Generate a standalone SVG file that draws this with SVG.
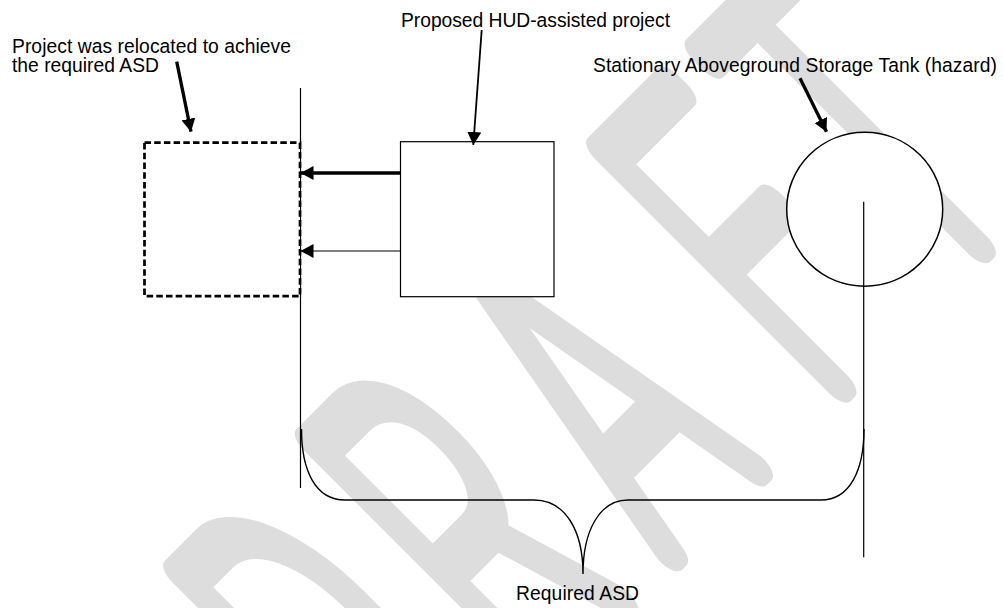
<svg xmlns="http://www.w3.org/2000/svg" width="1003" height="608" viewBox="0 0 1003 608">
  <defs>
    <style>
      .lbl { font-family: "Liberation Sans", Arial, sans-serif; font-size: 19.3px; fill: #000; }
      .ln { stroke: #000; fill: none; }
      .box { fill: #fff; stroke: #000; }
      .wm { font-family: Roboto, "Liberation Sans", sans-serif; font-weight: 100; font-size: 466px;
            fill: #dddddd; stroke: #dddddd; stroke-width: 32; stroke-linejoin: round; stroke-linecap: round;
            vector-effect: non-scaling-stroke; }
    </style>
    <marker id="arrow" viewBox="0 0 13 14" refX="13" refY="7" markerWidth="13" markerHeight="14"
            markerUnits="userSpaceOnUse" orient="auto">
      <path d="M0,0 L13,7 L0,14 Z" fill="#000"/>
    </marker>
  </defs>

  <!-- background watermark -->
  <g id="watermark" transform="translate(367.5,367.5) rotate(-45)">
    <text class="wm" transform="scale(0.48,1)" x="-629 -240 158 617 940" y="345">DRAFT</text>
  </g>

  <!-- reference line at the required separation distance -->
  <g id="asd-line">
    <line class="ln" x1="300.5" y1="88" x2="300.5" y2="488" stroke-width="1.2"/>
  </g>

  <!-- relocated project footprint -->
  <g id="relocated-project">
    <rect x="144.5" y="142.7" width="155.5" height="153.5" fill="#fff" stroke="#000" stroke-width="2.7" stroke-dasharray="6.5 3.2"/>
  </g>

  <!-- proposed project footprint -->
  <g id="proposed-project">
    <rect class="box" x="400.5" y="141.7" width="153.5" height="155" stroke-width="1.2"/>
  </g>

  <!-- storage tank -->
  <g id="tank">
    <ellipse class="box" cx="864.7" cy="209.2" rx="78" ry="77" stroke-width="1.5"/>
    <line class="ln" x1="863.7" y1="201.7" x2="863.7" y2="557.3" stroke-width="1.2"/>
  </g>

  <!-- brace spanning the required distance -->
  <g id="asd-brace">
    <path class="ln" stroke-width="1.4"
          d="M301.5,429 C301.5,470 315,500 345,500 L534,500 C565,500 583,530 583,574 C583,530 600,500 628,500 L821,500 C850,500 864,470 864,429"/>
  </g>

  <!-- labels -->
  <g id="label-relocated">
    <text class="lbl" x="12" y="52.7" textLength="279" lengthAdjust="spacing">Project was relocated to achieve</text>
    <text class="lbl" x="12" y="71.7" textLength="147" lengthAdjust="spacing">the required ASD</text>
  </g>
  <g id="label-proposed">
    <text class="lbl" x="401" y="27.3" textLength="269" lengthAdjust="spacing">Proposed HUD-assisted project</text>
  </g>
  <g id="label-tank">
    <text class="lbl" x="593" y="71.7" textLength="404" lengthAdjust="spacing">Stationary Aboveground Storage Tank (hazard)</text>
  </g>
  <g id="label-asd">
    <text class="lbl" x="516" y="600" textLength="123" lengthAdjust="spacing">Required ASD</text>
  </g>

  <!-- connectors -->
  <g id="connectors" class="ln">
    <line x1="176.7" y1="61.7" x2="191" y2="131.7" stroke-width="3.3" marker-end="url(#arrow)"/>
    <line x1="481.7" y1="30" x2="473.3" y2="145" stroke-width="1.8" marker-end="url(#arrow)"/>
    <line x1="800" y1="78.3" x2="826.5" y2="131.7" stroke-width="3.3" marker-end="url(#arrow)"/>
    <line x1="400" y1="173" x2="300.5" y2="173" stroke-width="3.5" marker-end="url(#arrow)"/>
    <line x1="400" y1="251" x2="300.5" y2="251" stroke-width="1" marker-end="url(#arrow)"/>
  </g>
</svg>
